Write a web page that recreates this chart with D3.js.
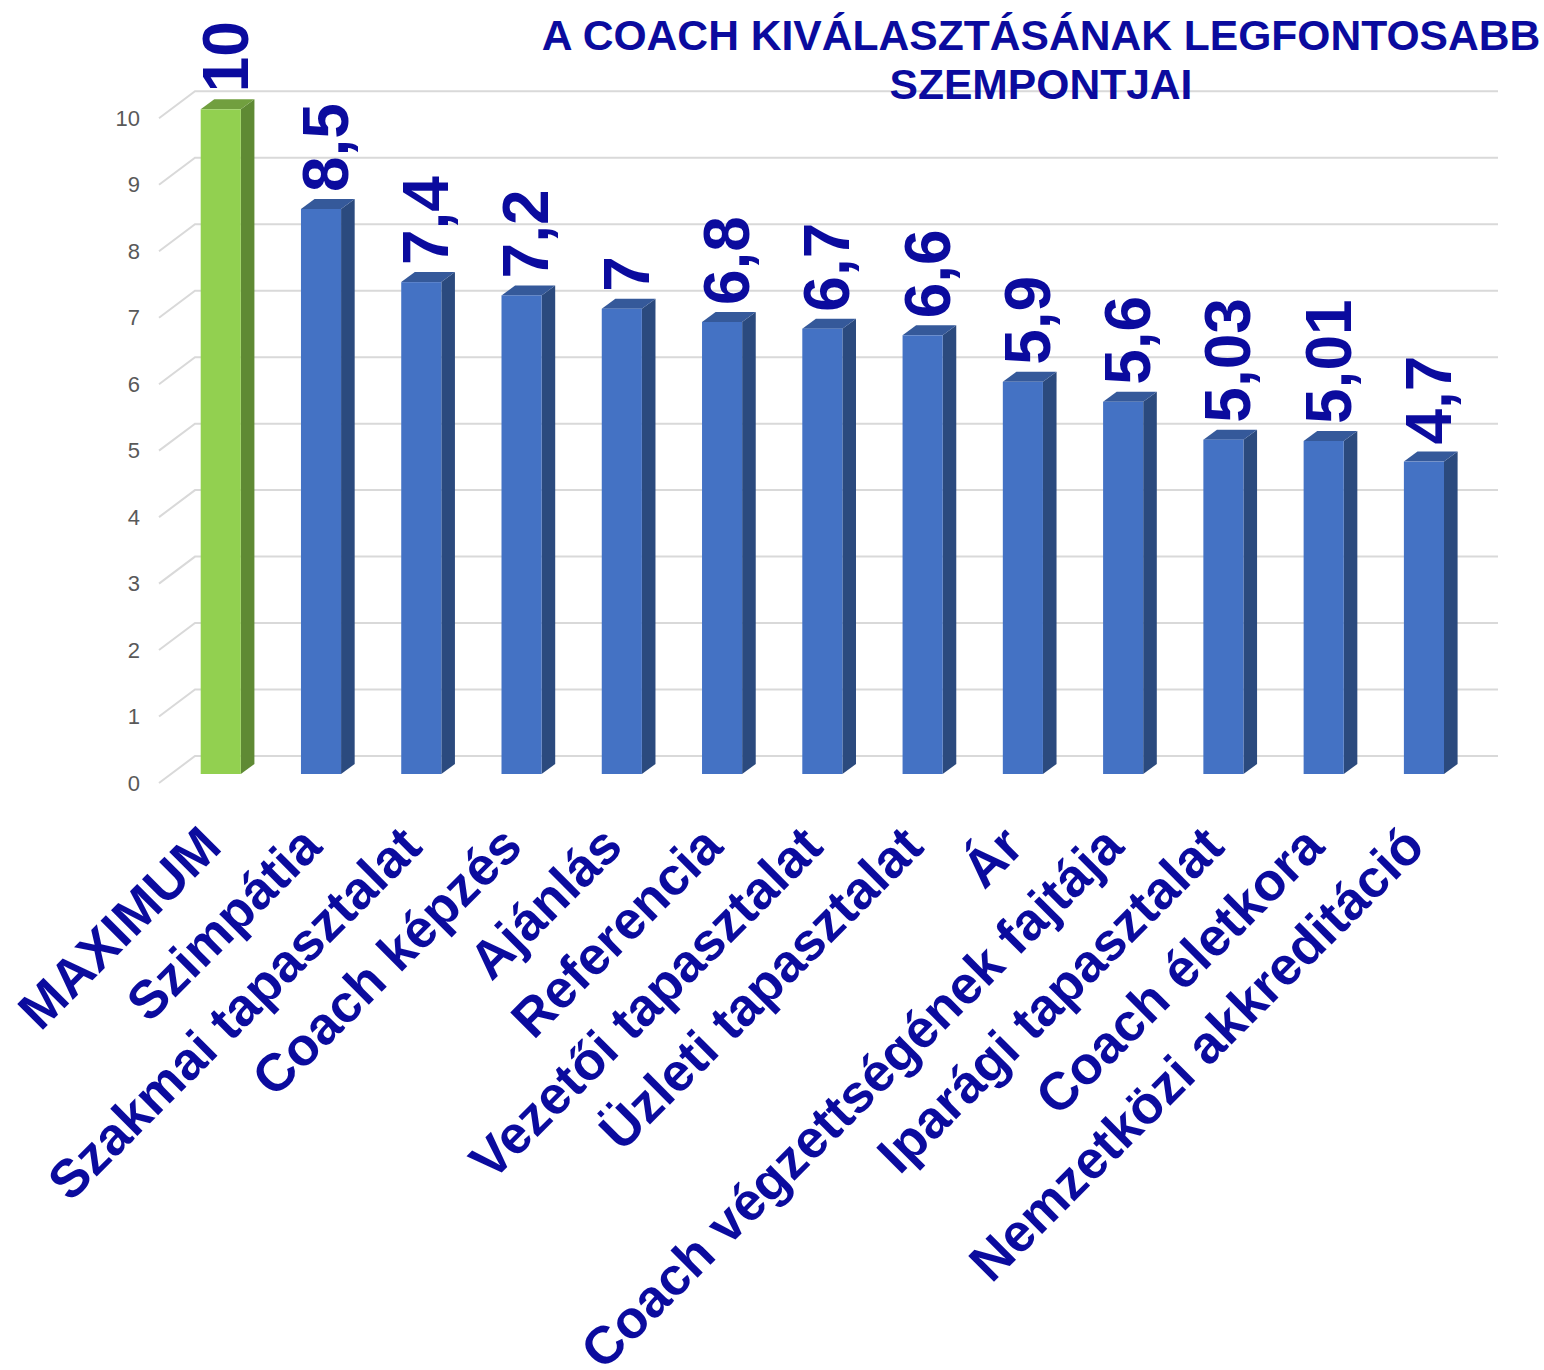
<!DOCTYPE html>
<html>
<head>
<meta charset="utf-8">
<script src="https://cdn.jsdelivr.net/npm/d3@7"></script>
<style>
  html, body { margin: 0; padding: 0; background: #ffffff; }
  svg { display: block; font-family: "Liberation Sans", Arial, sans-serif; }
</style>
</head>
<body>
<svg id="chart" width="1544" height="1370"></svg>
<script>
const categories = ["MAXIMUM", "Szimpátia", "Szakmai tapasztalat", "Coach képzés", "Ajánlás",
  "Referencia", "Vezetői tapasztalat", "Üzleti tapasztalat", "Ár",
  "Coach végzettségének fajtája", "Iparági tapasztalat", "Coach életkora", "Nemzetközi akkreditáció"];
const values = [10, 8.5, 7.4, 7.2, 7, 6.8, 6.7, 6.6, 5.9, 5.6, 5.03, 5.01, 4.7];
const tickValues = [0, 1, 2, 3, 4, 5, 6, 7, 8, 9, 10];
const titleLines = ["A COACH KIVÁLASZTÁSÁNAK LEGFONTOSABB", "SZEMPONTJAI"];

const svg = d3.select("#chart");
const textColor = "#0b0b9e";

const x = d3.scaleBand().domain(categories).range([200.7, 1444]).paddingInner(0.6).paddingOuter(0);
const y = d3.scaleLinear().domain([0, 10]).range([774, 109.3]);
const depthX = 13.6, depthY = 10;
const wallShift = 18;
const diagDX = 36, diagDY = 27;
const gridRight = 1498;

const grid = svg.append("g");
tickValues.forEach(v => {
  const yy = y(v) - wallShift;
  grid.append("path")
    .attr("d", `M${195 - diagDX},${yy + diagDY} L195,${yy} L${gridRight},${yy}`)
    .attr("fill", "none").attr("stroke", "#d9d9d9").attr("stroke-width", 2);
  grid.append("text")
    .attr("x", 140).attr("y", yy + diagDY)
    .attr("dy", "0.35em")
    .attr("text-anchor", "end")
    .attr("font-size", 22).attr("fill", "#595959")
    .text(v);
});

const bars = svg.append("g");
const bw = x.bandwidth();
categories.forEach((c, i) => {
  const v = values[i];
  const x0 = x(c);
  const yt = y(v), yb = y(0);
  const isMax = i === 0;
  const front = isMax ? "#92d050" : "#4472c4";
  const side = isMax ? "#5f8a34" : "#2b4a7e";
  const top = isMax ? "#719f3f" : "#35599a";
  const g = bars.append("g");
  g.append("path")
    .attr("d", `M${x0 + bw},${yt} L${x0 + bw + depthX},${yt - depthY} L${x0 + bw + depthX},${yb - depthY} L${x0 + bw},${yb} Z`)
    .attr("fill", side);
  g.append("path")
    .attr("d", `M${x0},${yt} L${x0 + depthX},${yt - depthY} L${x0 + bw + depthX},${yt - depthY} L${x0 + bw},${yt} Z`)
    .attr("fill", top);
  g.append("rect")
    .attr("x", x0).attr("y", yt).attr("width", bw).attr("height", yb - yt)
    .attr("fill", front);

  svg.append("text")
    .attr("transform", `translate(${x0 + 47},${yt - 17}) rotate(-90)`)
    .attr("text-anchor", "start")
    .attr("font-size", 64).attr("font-weight", "bold")
    .attr("fill", textColor)
    .text(String(v).replace(".", ","));

  svg.append("text")
    .attr("transform", `translate(${x0 + bw / 2 + 3},${849}) rotate(-45)`)
    .attr("text-anchor", "end")
    .attr("font-size", 53).attr("font-weight", "bold")
    .attr("fill", textColor)
    .text(c);
});

const title = svg.append("text")
  .attr("text-anchor", "middle")
  .attr("font-size", 42.6).attr("font-weight", "bold")
  .attr("fill", textColor);
titleLines.forEach((t, i) => {
  title.append("tspan").attr("x", 1041).attr("y", 50 + i * 49).text(t);
});
</script>
</body>
</html>
